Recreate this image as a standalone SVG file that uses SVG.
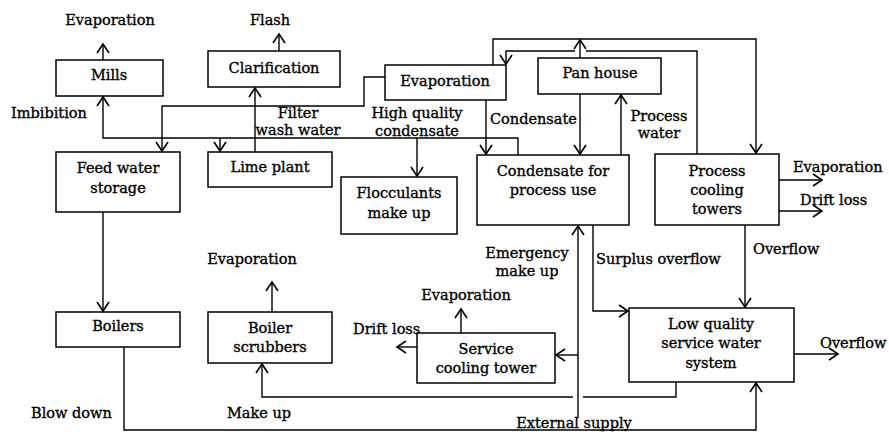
<svg xmlns="http://www.w3.org/2000/svg" width="889" height="432" viewBox="0 0 889 432">
<style>
.box{fill:#fff;stroke:#000;stroke-width:1.5}
.ln{fill:none;stroke:#000;stroke-width:1.4}
.arr{marker-end:url(#ah)}
text{font-family:"DejaVu Serif","Liberation Serif",serif;font-size:14.5px;fill:#000;stroke:#000;stroke-width:0.35}
.c{text-anchor:middle}
</style>
<defs>
<marker id="ah" markerUnits="userSpaceOnUse" markerWidth="12" markerHeight="14" viewBox="0 0 12 14" refX="10" refY="7" orient="auto">
<path d="M1,1 L10,7 L1,13" fill="none" stroke="#000" stroke-width="1.6"/>
</marker>
</defs>
<rect width="889" height="432" fill="#fff"/>
<g id="connectors">
<path class="ln arr" d="M103,60 V44"/>
<path class="ln arr" d="M279,51 V34"/>
<path class="ln arr" d="M255,152 V88"/>
<path class="ln arr" d="M385,77 H364 V106 H162 V151"/>
<path class="ln arr" d="M518,155 V138 H103 V97"/>
<path class="ln arr" d="M220,138 V151"/>
<path class="ln arr" d="M417,138 V176"/>
<path class="ln arr" d="M486,100 V154"/>
<path class="ln arr" d="M580,94 V154"/>
<path class="ln arr" d="M621,155 V95"/>
<path class="ln arr" d="M493,65 V39 H756 V153"/>
<path class="ln arr" d="M580,58 V40"/>
<path class="ln" d="M697,154 V51 H586"/>
<path class="ln arr" d="M575,51 H506 V64"/>
<path class="ln arr" d="M779,180 H822"/>
<path class="ln arr" d="M779,211 H822"/>
<path class="ln arr" d="M745,225 V307"/>
<path class="ln arr" d="M593,225 V311 H628"/>
<path class="ln arr" d="M794,354 H838"/>
<path class="ln arr" d="M103,212 V311"/>
<path class="ln arr" d="M272,312 V282"/>
<path class="ln arr" d="M578,418 V226"/>
<path class="ln arr" d="M578,355 H556"/>
<path class="ln arr" d="M461,333 V309"/>
<path class="ln arr" d="M417,347 H397"/>
<path class="ln" d="M676,382 V397 H583"/>
<path class="ln arr" d="M573,397 H262 V364"/>
<path class="ln arr" d="M124,347 V430 H756 V383"/>
</g>
<g id="mills"><rect class="box" x="56" y="60" width="107" height="36"/><text class="c" x="109" y="80">Mills</text></g>
<g id="clarification"><rect class="box" x="208" y="51" width="132" height="36"/><text class="c" x="274" y="73">Clarification</text></g>
<g id="evaporation"><rect class="box" x="385" y="65" width="121" height="35"/><text class="c" x="445" y="86">Evaporation</text></g>
<g id="pan-house"><rect class="box" x="538" y="58" width="123" height="36"/><text class="c" x="600" y="78">Pan house</text></g>
<g id="feed-water-storage"><rect class="box" x="56" y="152" width="124" height="60"/><text class="c" x="118" y="173">Feed water</text><text class="c" x="118" y="193">storage</text></g>
<g id="lime-plant"><rect class="box" x="208" y="152" width="124" height="35"/><text class="c" x="270" y="172">Lime plant</text></g>
<g id="flocculants"><rect class="box" x="341" y="177" width="116" height="57"/><text class="c" x="399" y="198">Flocculants</text><text class="c" x="399" y="218">make up</text></g>
<g id="condensate-process"><rect class="box" x="477" y="155" width="152" height="70"/><text class="c" x="553" y="176">Condensate for</text><text class="c" x="553" y="195">process use</text></g>
<g id="process-cooling"><rect class="box" x="655" y="154" width="124" height="71"/><text class="c" x="717" y="176">Process</text><text class="c" x="717" y="195">cooling</text><text class="c" x="717" y="214">towers</text></g>
<g id="boilers"><rect class="box" x="56" y="312" width="124" height="35"/><text class="c" x="118" y="331">Boilers</text></g>
<g id="boiler-scrubbers"><rect class="box" x="208" y="312" width="124" height="51"/><text class="c" x="270" y="333">Boiler</text><text class="c" x="270" y="352">scrubbers</text></g>
<g id="service-cooling"><rect class="box" x="417" y="333" width="138" height="50"/><text class="c" x="486" y="354">Service</text><text class="c" x="486" y="373">cooling tower</text></g>
<g id="low-quality"><rect class="box" x="629" y="308" width="165" height="74"/><text class="c" x="711" y="329">Low quality</text><text class="c" x="711" y="348">service water</text><text class="c" x="711" y="368">system</text></g>
<g id="labels">
<text class="c" x="110" y="25">Evaporation</text>
<text class="c" x="270" y="25">Flash</text>
<text x="11" y="118">Imbibition</text>
<text class="c" x="298" y="118">Filter</text>
<text class="c" x="298" y="135">wash water</text>
<text class="c" x="417" y="118">High quality</text>
<text class="c" x="417" y="136">condensate</text>
<text x="490" y="124">Condensate</text>
<text class="c" x="659" y="121">Process</text>
<text class="c" x="659" y="138">water</text>
<text x="793" y="172">Evaporation</text>
<text x="800" y="205">Drift loss</text>
<text x="753" y="254">Overflow</text>
<text x="596" y="264">Surplus overflow</text>
<text class="c" x="527" y="258">Emergency</text>
<text class="c" x="527" y="276">make up</text>
<text class="c" x="252" y="264">Evaporation</text>
<text class="c" x="466" y="300">Evaporation</text>
<text x="353" y="334">Drift loss</text>
<text x="820" y="348">Overflow</text>
<text x="31" y="418">Blow down</text>
<text x="227" y="418">Make up</text>
<text class="c" x="574" y="428">External supply</text>
</g>
</svg>
